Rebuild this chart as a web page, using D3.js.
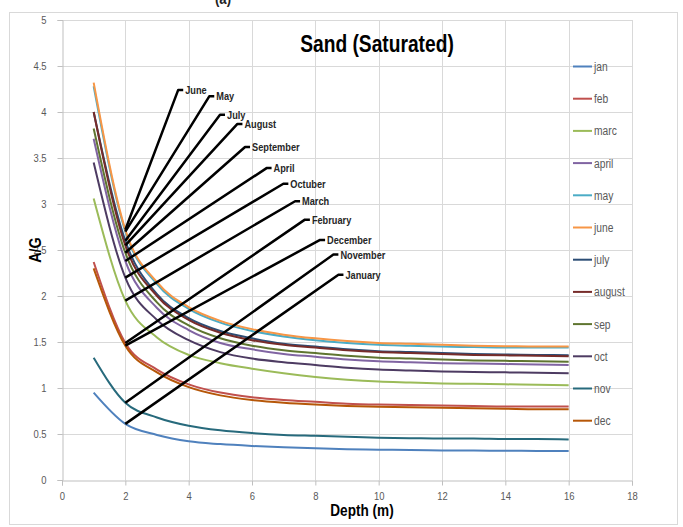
<!DOCTYPE html>
<html>
<head>
<meta charset="utf-8">
<script src="https://cdn.jsdelivr.net/npm/d3@7/dist/d3.min.js"></script>
<style>
  body { margin: 0; background: #fff; }
  text { font-family: "Liberation Sans", Arial, sans-serif; }
</style>
</head>
<body>
<svg id="chart" width="683" height="527"></svg>
<script>
// Depth (m) at which A/G was evaluated
const depths = [1, 2, 3, 4, 5, 6, 7, 8, 9, 10, 11, 12, 13, 14, 15, 16];

// A/G per month
const jan    = [0.95, 0.61, 0.49, 0.42, 0.39, 0.37, 0.355, 0.345, 0.335, 0.33, 0.325, 0.322, 0.32, 0.318, 0.316, 0.315];
const feb    = [2.37, 1.49, 1.20, 1.04, 0.95, 0.90, 0.87, 0.85, 0.83, 0.82, 0.815, 0.81, 0.805, 0.80, 0.80, 0.80];
const marc   = [3.06, 1.95, 1.55, 1.36, 1.27, 1.21, 1.16, 1.12, 1.09, 1.07, 1.06, 1.05, 1.045, 1.04, 1.035, 1.03];
const april  = [3.71, 2.38, 1.87, 1.63, 1.49, 1.42, 1.37, 1.34, 1.31, 1.29, 1.28, 1.27, 1.265, 1.26, 1.255, 1.25];
const may    = [4.28, 2.70, 2.13, 1.86, 1.71, 1.62, 1.56, 1.52, 1.49, 1.47, 1.46, 1.45, 1.445, 1.44, 1.44, 1.44];
const june   = [4.32, 2.72, 2.15, 1.88, 1.73, 1.64, 1.58, 1.54, 1.51, 1.49, 1.48, 1.47, 1.46, 1.455, 1.45, 1.45];
const july   = [4.00, 2.60, 2.02, 1.76, 1.62, 1.54, 1.48, 1.45, 1.42, 1.40, 1.39, 1.38, 1.37, 1.365, 1.36, 1.355];
const august = [4.00, 2.55, 2.00, 1.74, 1.60, 1.52, 1.47, 1.44, 1.41, 1.39, 1.38, 1.37, 1.36, 1.355, 1.35, 1.345];
const sep    = [3.82, 2.47, 1.93, 1.68, 1.54, 1.46, 1.41, 1.38, 1.35, 1.33, 1.32, 1.31, 1.30, 1.295, 1.29, 1.285];
const oct    = [3.45, 2.20, 1.74, 1.52, 1.39, 1.32, 1.28, 1.25, 1.22, 1.20, 1.19, 1.18, 1.175, 1.17, 1.165, 1.16];
const nov    = [1.33, 0.84, 0.68, 0.59, 0.54, 0.51, 0.49, 0.48, 0.47, 0.46, 0.455, 0.45, 0.45, 0.445, 0.445, 0.44];
const dec    = [2.30, 1.46, 1.17, 1.01, 0.92, 0.87, 0.84, 0.82, 0.805, 0.795, 0.79, 0.785, 0.78, 0.775, 0.77, 0.77];

const seriesNames  = ["jan", "feb", "marc", "april", "may", "june", "july", "august", "sep", "oct", "nov", "dec"];
const seriesValues = [jan, feb, marc, april, may, june, july, august, sep, oct, nov, dec];
const seriesColors = ["#4F81BD", "#C0504D", "#9BBB59", "#8064A2", "#4BACC6", "#F79646",
                      "#2C4D75", "#772C2A", "#5F7530", "#4D3B62", "#276A7C", "#B65708"];

// Callout labels: which series they point at (at depth 2 m) and where the text sits
const noteLabels  = ["June", "May", "July", "August", "September", "April", "Octuber", "March", "February", "December", "November", "January"];
const noteSeries  = ["june", "may", "july", "august", "sep", "april", "oct", "marc", "feb", "dec", "nov", "jan"];
const noteDepth   = 2;
const noteAnchorX = [3.67, 4.65, 4.99, 5.54, 5.78, 6.46, 6.99, 7.36, 7.67, 8.15, 8.57, 8.73];
const noteAnchorY = [4.24, 4.17, 3.97, 3.87, 3.62, 3.39, 3.22, 3.03, 2.83, 2.61, 2.45, 2.23];

const xTicks = [0, 2, 4, 6, 8, 10, 12, 14, 16, 18];
const yTicks = [0, 0.5, 1, 1.5, 2, 2.5, 3, 3.5, 4, 4.5, 5];

const titleText = "Sand (Saturated)";
const xTitle = "Depth (m)";
const yTitle = "A/G";

// Narrow the glyphs of a text selection to a Calibri-like width
function condense(sel, k) {
  sel.each(function () {
    const w = this.getComputedTextLength();
    d3.select(this).attr("textLength", w * k).attr("lengthAdjust", "spacingAndGlyphs");
  });
  return sel;
}

// ---- layout ----
const svg = d3.select("#chart");
const plot = { left: 62, top: 20, right: 632, bottom: 480 };

const x = d3.scaleLinear().domain([0, 18]).range([plot.left, plot.right]);
const y = d3.scaleLinear().domain([0, 5]).range([plot.bottom, plot.top]);

// outer chart frame
svg.append("rect")
  .attr("x", 9.5).attr("y", 12.5)
  .attr("width", 668).attr("height", 512)
  .attr("fill", "#fff").attr("stroke", "#d9d9d9").attr("stroke-width", 1);

// figure tag cut by the top edge
condense(svg.append("text")
  .attr("x", 215).attr("y", 4)
  .attr("font-size", 16).attr("font-weight", "bold").attr("fill", "#222")
  .text("(a)"), 0.82);

// gridlines
const grid = svg.append("g").attr("stroke", "#d9d9d9").attr("stroke-width", 1);
grid.selectAll("line.v").data(xTicks.filter(d => d > 0)).join("line")
  .attr("x1", d => Math.round(x(d)) + 0.5).attr("x2", d => Math.round(x(d)) + 0.5)
  .attr("y1", plot.top).attr("y2", plot.bottom);
grid.selectAll("line.h").data(yTicks.filter(d => d > 0)).join("line")
  .attr("x1", plot.left).attr("x2", plot.right)
  .attr("y1", d => Math.round(y(d)) + 0.5).attr("y2", d => Math.round(y(d)) + 0.5);

// axes
const xAxis = d3.axisBottom(x).tickValues(xTicks).tickSize(5).tickPadding(6).tickFormat(d => d);
const yAxis = d3.axisLeft(y).tickValues(yTicks).tickSize(5).tickPadding(11).tickFormat(d => d);

const gx = svg.append("g").attr("transform", `translate(0,${plot.bottom + 0.5})`).call(xAxis);
const gy = svg.append("g").attr("transform", `translate(${plot.left + 0.5},0)`).call(yAxis);
[gx, gy].forEach(g => {
  g.select(".domain").attr("stroke", "#bfbfbf");
  g.selectAll(".tick line").attr("stroke", "#bfbfbf");
  const t = g.selectAll(".tick text").attr("fill", "#595959").attr("font-size", 11.5)
    .attr("font-family", "'Liberation Sans', Arial, sans-serif");
  condense(t, 0.82);
});

// series curves
const line = d3.line()
  .x((d, i) => x(depths[i]))
  .y(d => y(d))
  .curve(d3.curveMonotoneX);

svg.append("g").selectAll("path").data(seriesValues).join("path")
  .attr("d", d => line(d))
  .attr("fill", "none")
  .attr("stroke", (d, i) => seriesColors[i])
  .attr("stroke-width", 2)
  .attr("stroke-linejoin", "round");

// callouts
const notes = svg.append("g");
noteLabels.forEach((label, k) => {
  const vals = seriesValues[seriesNames.indexOf(noteSeries[k])];
  const sx = x(noteDepth), sy = y(vals[depths.indexOf(noteDepth)]);
  const ax = x(noteAnchorX[k]), ay = y(noteAnchorY[k]);
  notes.append("path")
    .attr("d", `M${sx},${sy}L${ax},${ay}L${ax + 5},${ay}`)
    .attr("fill", "none").attr("stroke", "#000").attr("stroke-width", 2.5)
    .attr("stroke-linejoin", "round");
  condense(notes.append("text")
    .attr("x", ax + 7).attr("y", ay + 4)
    .attr("font-size", 11.5).attr("font-weight", "bold").attr("fill", "#262626")
    .text(label), 0.8);
});

// legend
const legend = svg.append("g");
seriesNames.forEach((name, i) => {
  const ly = 66.5 + i * 32.2;
  legend.append("line")
    .attr("x1", 573).attr("x2", 592).attr("y1", ly).attr("y2", ly)
    .attr("stroke", seriesColors[i]).attr("stroke-width", 2);
  condense(legend.append("text")
    .attr("x", 594).attr("y", ly + 4.5)
    .attr("font-size", 12.5).attr("fill", "#595959")
    .text(name), 0.82);
});

// titles
condense(svg.append("text")
  .attr("x", 377).attr("y", 52)
  .attr("text-anchor", "middle").attr("font-size", 24).attr("font-weight", "bold").attr("fill", "#000")
  .text(titleText), 0.8);

condense(svg.append("text")
  .attr("x", 362).attr("y", 516)
  .attr("text-anchor", "middle").attr("font-size", 16).attr("font-weight", "bold").attr("fill", "#000")
  .text(xTitle), 0.85);

condense(svg.append("text")
  .attr("transform", "translate(41,250) rotate(-90)")
  .attr("text-anchor", "middle").attr("font-size", 16).attr("font-weight", "bold").attr("fill", "#000")
  .text(yTitle), 0.9);
</script>
</body>
</html>
